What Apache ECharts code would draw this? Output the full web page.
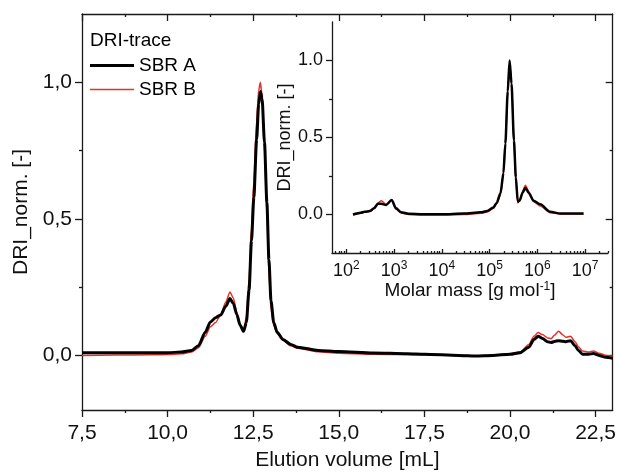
<!DOCTYPE html>
<html><head><meta charset="utf-8">
<script src="https://cdn.jsdelivr.net/npm/echarts@6/dist/echarts.min.js"></script>
<style>html,body{margin:0;padding:0;background:#fff}#c{width:619px;height:476px}</style>
</head><body><div id="c"></div>
<script>
// ---- main chart data (elution volume in mL) ----
const elutionVolume = [7.5,8.5,9.5,10.0,10.4,10.7,10.9,11.1,11.25,11.4,11.55,11.7,11.82,11.92,12.02,12.12,12.22,12.3,12.38,12.45,12.52,12.6,12.66,12.71,12.76,12.83,12.9,12.96,13.02,13.1,13.2,13.37,13.6,13.8,14.4,15.0,16.0,17.0,17.5,18.5,19.0,19.5,20.0,20.3,20.55,20.7,20.82,20.95,21.1,21.2,21.3,21.42,21.55,21.63,21.77,21.9,22.0,22.12,22.3,22.44,22.6,22.8,23.0];
const sbrA = [0.010,0.010,0.010,0.010,0.012,0.018,0.035,0.085,0.122,0.138,0.148,0.180,0.208,0.190,0.150,0.110,0.088,0.120,0.240,0.420,0.580,0.790,0.920,0.966,0.940,0.780,0.560,0.350,0.200,0.120,0.085,0.058,0.040,0.030,0.018,0.014,0.009,0.006,0.004,0.000,-0.002,0.000,0.004,0.010,0.030,0.058,0.070,0.062,0.050,0.047,0.051,0.054,0.052,0.050,0.054,0.035,0.018,0.004,0.004,0.007,0.000,-0.007,-0.011];
const sbrB = [0.000,0.001,0.002,0.003,0.006,0.012,0.028,0.070,0.105,0.120,0.148,0.195,0.232,0.210,0.158,0.112,0.090,0.140,0.280,0.470,0.640,0.860,0.970,1.000,0.950,0.760,0.520,0.300,0.170,0.110,0.080,0.055,0.035,0.026,0.013,0.008,0.004,0.003,0.002,0.000,-0.001,0.001,0.006,0.013,0.040,0.070,0.084,0.076,0.064,0.061,0.074,0.088,0.075,0.066,0.070,0.050,0.032,0.016,0.012,0.016,0.008,0.000,-0.003];

// ---- inset data (molar mass in g/mol) ----
const molarMass = [138,200,240,310,380,460,540,680,890,1100,1410,2000,4000,10000,29000,65000,89000,120000,141000,170000,195000,214000,240000,263000,288000,324000,355000,389000,427000,490000,562000,660000,832000,1150000,1860000,3020000,5600000,9300000];
const insetA = [0.000,0.012,0.018,0.022,0.040,0.070,0.070,0.062,0.094,0.040,0.014,0.005,0.002,0.002,0.006,0.014,0.022,0.046,0.075,0.140,0.270,0.460,0.800,1.000,0.850,0.480,0.240,0.085,0.090,0.140,0.174,0.140,0.090,0.066,0.018,0.006,0.006,0.006];
const insetB = [-0.003,0.008,0.014,0.020,0.040,0.075,0.090,0.065,0.094,0.035,0.010,0.000,-0.003,-0.003,0.000,0.008,0.016,0.040,0.070,0.130,0.260,0.460,0.800,0.990,0.850,0.470,0.220,0.075,0.095,0.150,0.190,0.150,0.085,0.055,0.012,0.004,0.004,0.004];

// ---- tick labels ----
const mainXTicks = [7.5,10,12.5,15,17.5,20,22.5];
const mainXMinor = [8.75,11.25,13.75,16.25,18.75,21.25];
const mainYTicks = [0,0.5,1.0];
const mainYMinor = [0.25,0.75];
const insetYTicks = [0,0.5,1.0];
const insetYMinor = [0.25,0.75];
const insetXDecades = [2,3,4,5,6,7];
const insetXMinor = [];
for (let n = 1; n <= 7; n++) for (let k = 2; k <= 9; k++) {
  const v = Math.log10(k * Math.pow(10, n));
  if (v > 1.7 && v < 7.48) insetXMinor.push(v);
}

const FONT = 'Liberation Sans, Arial, sans-serif';
const AX = '#1a1a1a';
const line = {show: true, onZero: false, lineStyle: {color: AX, width: 1.3}};
const noLine = {show: false, onZero: false};
const comma = v => v.toFixed(1).replace('.', ',');

function axis(o) {
  return Object.assign({
    type: 'value', splitLine: {show: false}, axisLine: noLine,
    axisLabel: {show: false}, axisPointer: {show: false}
  }, o);
}
function ticks(vals, len, inside) {
  return {show: true, customValues: vals, length: len, inside: !!inside, lineStyle: {color: AX, width: 1.3}};
}

const xMain = {gridIndex: 0, min: 7.5, max: 23};
const yMain = {gridIndex: 0, min: -0.2, max: 1.25};
const xIn = {gridIndex: 1, min: 1.7, max: 7.48};
const yIn = {gridIndex: 1, min: -0.25, max: 1.25};

const option = {
  animation: false,
  textStyle: {fontFamily: FONT},
  title: {text: 'DRI-trace', left: 90, top: 31, padding: 0,
    textStyle: {fontSize: 19, fontWeight: 'normal', color: '#000', fontFamily: FONT}},
  legend: {
    data: [
      {name: 'SBR A', icon: 'path://M0 0H44V3H0Z'},
      {name: 'SBR B', icon: 'path://M0 0H44V1.5H0Z'}
    ],
    orient: 'vertical', left: 90, top: 56, padding: 0,
    itemWidth: 44, itemHeight: 14, itemGap: 5,
    textStyle: {fontSize: 19, color: '#000', fontFamily: FONT}
  },
  grid: [
    {left: 82, right: 5, top: 14, bottom: 60},
    {left: 332, right: 11, top: 22, bottom: 223}
  ],
  xAxis: [
    axis(Object.assign({}, xMain, {position: 'bottom', axisLine: line, axisTick: ticks(mainXTicks, 7),
      axisLabel: {show: true, customValues: mainXTicks, formatter: comma, fontSize: 21, color: '#111', margin: 13},
      name: 'Elution volume [mL]', nameLocation: 'middle', nameGap: 40,
      nameTextStyle: {fontSize: 21, color: '#111'}})),
    axis(Object.assign({}, xMain, {position: 'bottom', axisTick: ticks(mainXMinor, 3)})),
    axis(Object.assign({}, xMain, {position: 'top', axisLine: line, axisTick: ticks(mainXTicks, 7, true)})),
    axis(Object.assign({}, xMain, {position: 'top', axisTick: ticks(mainXMinor, 3, true)})),
    axis(Object.assign({}, xIn, {position: 'bottom', axisLine: line, axisTick: ticks(insetXDecades, 4, true),
      axisLabel: {show: true, customValues: insetXDecades, margin: 7, color: '#111',
        formatter: v => '{b|10}{s|' + Math.round(v) + '}',
        rich: {b: {fontSize: 18, lineHeight: 22, color: '#111'}, s: {fontSize: 12, verticalAlign: 'top', color: '#111'}}},
      name: 'Molar mass [g mol{s|-1}]', nameLocation: 'middle', nameGap: 27,
      nameTextStyle: {fontSize: 19, color: '#111', rich: {s: {fontSize: 12, verticalAlign: 'top', color: '#111'}}}})),
    axis(Object.assign({}, xIn, {position: 'bottom', axisTick: ticks(insetXMinor, 2, true)}))
  ],
  yAxis: [
    axis(Object.assign({}, yMain, {position: 'left', axisLine: line, axisTick: ticks(mainYTicks, 7),
      axisLabel: {show: true, customValues: mainYTicks, formatter: comma, fontSize: 21, color: '#111', margin: 10},
      name: 'DRI_norm. [-]', nameLocation: 'middle', nameGap: 48,
      nameTextStyle: {fontSize: 21, color: '#111'}})),
    axis(Object.assign({}, yMain, {position: 'left', axisTick: ticks(mainYMinor, 3)})),
    axis(Object.assign({}, yMain, {position: 'right', axisLine: line, axisTick: ticks(mainYTicks, 7, true)})),
    axis(Object.assign({}, yMain, {position: 'right', axisTick: ticks(mainYMinor, 3, true)})),
    axis(Object.assign({}, yIn, {position: 'left', axisLine: line, axisTick: ticks(insetYTicks, 6),
      axisLabel: {show: true, customValues: insetYTicks, formatter: v => v.toFixed(1), fontSize: 18, color: '#111', margin: 9},
      name: 'DRI_norm. [-]', nameLocation: 'middle', nameGap: 36,
      nameTextStyle: {fontSize: 18, color: '#111'}})),
    axis(Object.assign({}, yIn, {position: 'left', axisTick: ticks(insetYMinor, 3)}))
  ],
  series: [
    {name: 'SBR B', type: 'line', xAxisIndex: 0, yAxisIndex: 0, symbol: 'none', smooth: 0.25, smoothMonotone: 'x',
      lineStyle: {color: '#e8302a', width: 1.5}, itemStyle: {color: '#e8302a'},
      data: elutionVolume.map((x, i) => [x, sbrB[i]])},
    {name: 'SBR A', type: 'line', xAxisIndex: 0, yAxisIndex: 0, symbol: 'none', smooth: 0.25, smoothMonotone: 'x',
      lineStyle: {color: '#000', width: 3}, itemStyle: {color: '#000'},
      data: elutionVolume.map((x, i) => [x, sbrA[i]])},
    {name: 'SBR B', type: 'line', xAxisIndex: 4, yAxisIndex: 4, symbol: 'none', smooth: 0.25, smoothMonotone: 'x',
      lineStyle: {color: '#e8302a', width: 1.5}, itemStyle: {color: '#e8302a'},
      data: molarMass.map((m, i) => [Math.log10(m), insetB[i]])},
    {name: 'SBR A', type: 'line', xAxisIndex: 4, yAxisIndex: 4, symbol: 'none', smooth: 0.25, smoothMonotone: 'x',
      lineStyle: {color: '#000', width: 2.5}, itemStyle: {color: '#000'},
      data: molarMass.map((m, i) => [Math.log10(m), insetA[i]])}
  ]
};
echarts.init(document.getElementById('c'), null, {renderer: 'canvas'}).setOption(option);
</script></body></html>
